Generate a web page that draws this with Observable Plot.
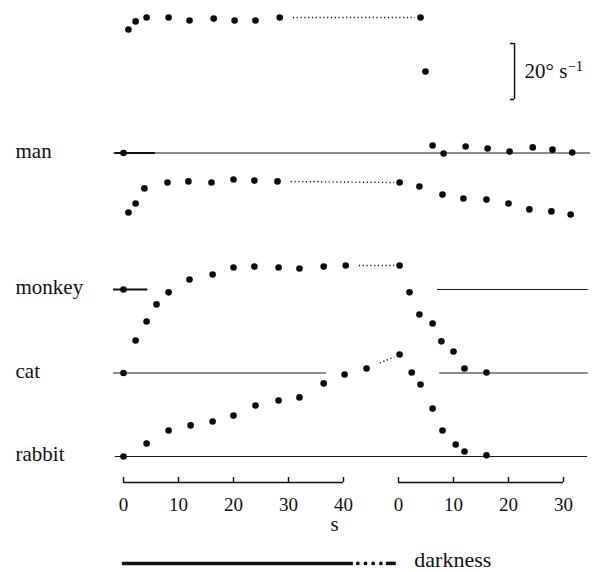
<!DOCTYPE html>
<html>
<head>
<meta charset="utf-8">
<script src="https://cdn.jsdelivr.net/npm/d3@7"></script>
<script src="https://cdn.jsdelivr.net/npm/@observablehq/plot@0.6"></script>
<style>
  html, body { margin: 0; padding: 0; background: #fff; }
  #chart svg { display: block; }
  #chart svg, #chart svg text, #chart svg tspan { font-family: "Liberation Serif", "DejaVu Serif", "Noto Serif", Times, serif !important; }
</style>
</head>
<body>
<div id="chart"></div>
<script>
// ---- data (time in s, eye velocity in deg/s) ----
const species = ["man", "monkey", "cat", "rabbit"];

// light (stimulus) phase
const manLightT    = [0, 0.9, 2.2, 4.2, 8.2, 12, 16.4, 20.2, 24, 28.4];
const manLightV    = [0, 44.1, 47.0, 48.4, 48.4, 47.3, 48.0, 47.3, 47.3, 48.4];
const monkeyLightT = [0, 0.9, 2.2, 3.8, 8, 11.8, 16, 20, 23.8, 28];
const monkeyLightV = [0, 27.5, 30.7, 36.1, 38.2, 38.6, 38.2, 39.3, 38.9, 38.6];
const catLightT    = [0, 2.2, 4.2, 6, 8.2, 12, 16.2, 20, 23.8, 28.2, 32, 36.4, 40.4];
const catLightV    = [0, 11.6, 18.4, 24.5, 28.8, 33.4, 35.2, 37.7, 38.0, 37.7, 37.3, 38.0, 38.4];
const rabbitLightT = [0, 4.2, 8.2, 12.2, 16.2, 20, 24, 28.2, 32, 36.4, 40.2, 44.2];
const rabbitLightV = [0, 4.6, 9.3, 11.1, 12.5, 14.6, 18.2, 20.0, 21.1, 26.1, 29.3, 31.4];

// darkness phase (time from onset of darkness)
const manDarkT    = [4, 4.9, 6.2, 8.2, 12.2, 16.2, 20.2, 24.4, 28, 31.6];
const manDarkV    = [48.4, 29.1, 2.7, -0.2, 2.3, 1.6, 0.5, 2.0, 1.2, 0.2];
const monkeyDarkT = [0.2, 3.8, 8, 11.8, 16, 20, 23.8, 27.8, 31.3];
const monkeyDarkV = [38.2, 36.8, 33.9, 32.5, 32.1, 30.7, 28.6, 27.9, 26.8];
const catDarkT    = [0.2, 2, 3.8, 6.2, 7.8, 10, 12, 16];
const catDarkV    = [38.4, 28.8, 20.9, 17.7, 11.3, 7.7, 1.6, 0.2];
const rabbitDarkT = [0.2, 2.4, 4, 6.2, 8, 10.4, 12, 16];
const rabbitDarkV = [36.4, 30.0, 25.7, 17.1, 9.3, 4.3, 1.8, 0.4];

// zero-velocity reference lines [from, phase, to, phase] in s ("l" light, "d" darkness)
const manZero    = [[-1.8, "l", 34.9, "d"]];
const monkeyZero = [[-1.8, "l", 4.4, "l"], [7.1, "d", 34.5, "d"]];
const catZero    = [[-1.8, "l", 36.9, "l"], [7.5, "d", 34.5, "d"]];
const rabbitZero = [[-1.5, "l", 34.4, "d"]];

const leftTicks  = [0, 10, 20, 30, 40];
const rightTicks = [0, 10, 20, 30];
const scaleBarValue = 20; // deg/s

// ---- layout ----
const pxPerS = 5.5, pxPerDeg = 2.8;
const W = 598, H = 572, axisPx = 482, originPx = 123;
const darkStart = 50;                    // position of darkness "0" on the time scale
const offset = {man: 117.68, monkey: 68.93, cat: 39.11, rabbit: 9.29};

const light = {man: [manLightT, manLightV], monkey: [monkeyLightT, monkeyLightV],
               cat: [catLightT, catLightV], rabbit: [rabbitLightT, rabbitLightV]};
const dark  = {man: [manDarkT, manDarkV], monkey: [monkeyDarkT, monkeyDarkV],
               cat: [catDarkT, catDarkV], rabbit: [rabbitDarkT, rabbitDarkV]};
const zero  = {man: manZero, monkey: monkeyZero, cat: catZero, rabbit: rabbitZero};

const points = [], gaps = [], zeros = [];
for (const s of species) {
  const [lt, lv] = light[s], [dt, dv] = dark[s];
  lt.forEach((t, i) => points.push({s, x: t, y: offset[s] + lv[i]}));
  dt.forEach((t, i) => points.push({s, x: darkStart + t, y: offset[s] + dv[i]}));
  const a = {x: lt[lt.length - 1], y: offset[s] + lv[lv.length - 1]};
  const b = {x: darkStart + dt[0], y: offset[s] + dv[0]};
  const x1 = a.x + 2.4, x2 = b.x - 1;
  const f = x => a.y + (b.y - a.y) * (x - a.x) / (b.x - a.x);
  gaps.push({x1, x2, y1: f(x1), y2: f(x2)});
  for (const [f1, p1, f2, p2] of zero[s]) {
    zeros.push({s, y: offset[s], x1: f1 + (p1 === "d" ? darkStart : 0), x2: f2 + (p2 === "d" ? darkStart : 0)});
  }
}
const startStubs = [{y: offset.man, x1: -1.5, x2: 5.8}, {y: offset.monkey, x1: -1.8, x2: 4.4}];

const axes = [{x1: leftTicks[0], x2: leftTicks[leftTicks.length - 1]},
              {x1: darkStart + rightTicks[0], x2: darkStart + rightTicks[rightTicks.length - 1]}];
const ticks = [...leftTicks.map(t => ({x: t, label: String(t)})),
               ...rightTicks.map(t => ({x: darkStart + t, label: String(t)}))];

const barX = 71.1, barBottom = offset.man + 19.1;
const legendY = -28.9;

const font = '"Liberation Serif", "DejaVu Serif", "Noto Serif", Times, serif';

const chart = Plot.plot({
  width: W, height: H,
  marginLeft: 0, marginRight: 0, marginTop: 0, marginBottom: H - axisPx,
  x: {domain: [-originPx / pxPerS, (W - originPx) / pxPerS], axis: null},
  y: {domain: [0, axisPx / pxPerDeg], axis: null},
  style: {fontFamily: font, background: "#fff", color: "#111", overflow: "visible"},
  marks: [
    // zero-velocity lines
    Plot.ruleY(zeros, {y: "y", x1: "x1", x2: "x2", stroke: "#1a1a1a", strokeWidth: 1.2}),
    Plot.ruleY(startStubs, {y: "y", x1: "x1", x2: "x2", stroke: "#111", strokeWidth: 2}),
    // gap (dotted) connectors
    Plot.link(gaps, {x1: "x1", y1: "y1", x2: "x2", y2: "y2", stroke: "#111", strokeWidth: 1.4, strokeDasharray: "1.2,2.6"}),
    // data
    Plot.dot(points, {x: "x", y: "y", r: 3.3, fill: "#0a0a0a", stroke: "none"}),
    // species labels
    Plot.text(species, {x: -originPx / pxPerS, y: s => offset[s], text: d => d, dx: 15, dy: 5,
      textAnchor: "start", lineAnchor: "bottom", fontSize: 21, fontFamily: font, fill: "#111"}),
    // time axes
    Plot.ruleY(axes, {y: 0, x1: "x1", x2: "x2", stroke: "#111", strokeWidth: 1.6}),
    Plot.ruleX(ticks, {x: "x", y1: 0, y2: 5 / pxPerDeg, stroke: "#111", strokeWidth: 1.4}),
    Plot.text(ticks, {x: "x", y: 0, text: "label", dy: 28, lineAnchor: "bottom", fontSize: 19, fontFamily: font, fill: "#111"}),
    Plot.text(["s"], {x: 38.4, y: 0, text: d => d, dy: 48, lineAnchor: "bottom", fontSize: 21, fontFamily: font, fill: "#111"}),
    // scale bar
    Plot.ruleX([0], {x: barX, y1: barBottom, y2: barBottom + scaleBarValue, stroke: "#111", strokeWidth: 1.5}),
    Plot.ruleY([barBottom, barBottom + scaleBarValue], {y: d => d, x1: barX - 0.75, x2: barX, stroke: "#111", strokeWidth: 1.5}),
    Plot.text(["20° s"], {x: barX, y: barBottom + scaleBarValue / 2, text: d => d, dx: 10, dy: 6,
      textAnchor: "start", lineAnchor: "bottom", fontSize: 21, fontFamily: font, fill: "#111"}),
    // darkness legend
    Plot.ruleY([legendY], {y: d => d, x1: -0.2, x2: 41.8, stroke: "#111", strokeWidth: 3.5}),
    Plot.dot([42.6, 44.0, 45.4, 46.8], {x: d => d, y: legendY, r: 1.9, fill: "#111", stroke: "none"}),
    Plot.ruleY([legendY], {y: d => d, x1: 47.8, x2: 49.6, stroke: "#111", strokeWidth: 3.5}),
    Plot.text(["darkness"], {x: 49.6, y: legendY, text: d => d, dx: 18, dy: 4, textAnchor: "start",
      lineAnchor: "bottom", fontSize: 22, fontFamily: font, fill: "#111"})
  ]
});

document.getElementById("chart").appendChild(chart);

// superscript exponent on the scale-bar unit
d3.select(chart).selectAll("text")
  .filter(function () { return this.textContent === "20° s"; })
  .append("tspan")
  .attr("dy", "-0.45em")
  .attr("font-size", "0.7em")
  .text("−1");
</script>
</body>
</html>
